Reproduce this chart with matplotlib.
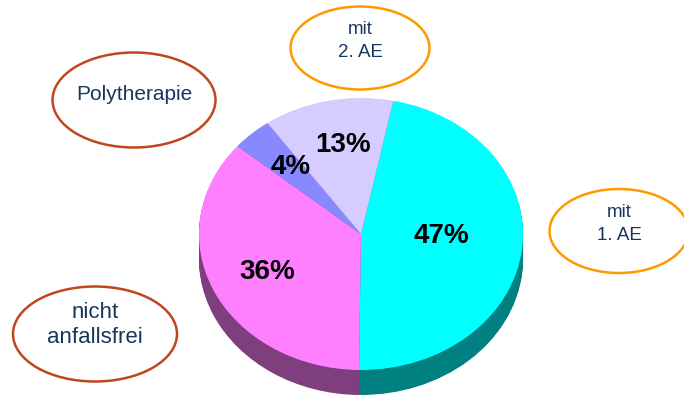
import matplotlib
matplotlib.use("Agg")
import matplotlib.pyplot as plt
from matplotlib.patches import Ellipse
from matplotlib.transforms import Affine2D

# ---- data ----
slice_names = ["mit 1. AE", "nicht anfallsfrei", "Polytherapie", "mit 2. AE"]
slice_values = [47, 36, 4, 13]
top_colors = ["#00FFFF", "#FF80FF", "#8888FF", "#D6CCFF"]
side_colors = ["#008080", "#7F3F7F", "#44448A", "#8A80B0"]
callout_texts = ["mit\n1. AE", "nicht\nanfallsfrei", "Polytherapie", "mit\n2. AE"]
callout_colors = ["#FF9900", "#C0461E", "#C0461E", "#FF9900"]

W, H = 684, 396
fig = plt.figure(figsize=(W / 100, H / 100), dpi=100)
ax = fig.add_axes([0, 0, 1, 1])

cx, cy = 361, H - 234
rx, ry = 162, 136
depth = 25
start = 90 - 11.5

def squash(center_y):
    return Affine2D().translate(-cx, -center_y).scale(1, ry / rx).translate(cx, center_y) + ax.transData

# 3D side: stacked layers
for d in range(depth, 0, -1):
    wedges, _ = ax.pie(slice_values, colors=side_colors, radius=rx, center=(cx, cy - d),
                       startangle=start, counterclock=False, frame=True,
                       wedgeprops=dict(linewidth=0))
    for w in wedges:
        w.set_transform(squash(cy - d))

# top face
wedges, _ = ax.pie(slice_values, colors=top_colors, radius=rx, center=(cx, cy),
                   startangle=start, counterclock=False, frame=True,
                   wedgeprops=dict(linewidth=0))
for w in wedges:
    w.set_transform(squash(cy))

# percentage labels
pct_pos = [(441, 236), (267, 272), (291, 167), (343, 145)]
for v, (x, y) in zip(slice_values, pct_pos):
    ax.text(x, H - y, f"{v}%", ha="center", va="center", fontsize=20,
            fontweight="bold", family="Liberation Sans", color="black")

# callout ellipses
callout_geom = [
    # (ellipse cx, cy, width, height, text y, fontsize, linespacing)
    (619, 231, 139, 84, 224, 13.5, 1.45),
    (95, 334, 164, 95, 325, 16, 1.25),
    (134, 100, 163, 95, 95, 15, 1.2),
    (360, 48, 139, 83, 41, 13.5, 1.45),
]
for txt, col, (ex, ey, ew, eh, ty, fs, ls) in zip(callout_texts, callout_colors, callout_geom):
    ax.add_patch(Ellipse((ex, H - ey), ew, eh, fill=False, edgecolor=col, linewidth=1.8))
    ax.text(ex, H - ty, txt, ha="center", va="center", fontsize=fs,
            family="Liberation Sans", color="#17365D", linespacing=ls)

ax.set_xlim(0, W)
ax.set_ylim(0, H)
ax.set_aspect("auto")
ax.axis("off")
fig.savefig("out.png", dpi=100, facecolor="white")
